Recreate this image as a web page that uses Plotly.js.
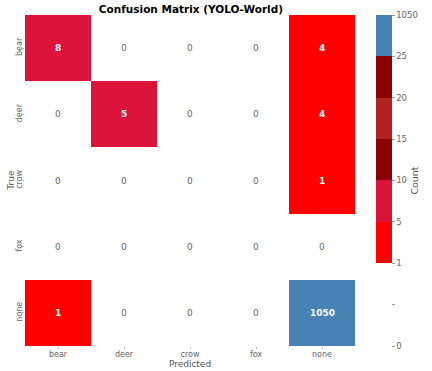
<!DOCTYPE html>
<html><head><meta charset="utf-8">
<script src="https://cdn.plot.ly/plotly-3.0.1.min.js"></script>
<style>body{margin:0;background:#fff}#c{width:432px;height:371px}</style>
</head><body><div id="c"></div>
<script>
const predLabels = ['bear','deer','crow','fox','none'];
const trueLabels = ['bear','deer','crow','fox','none'];
const counts = [
  [8,0,0,0,4],
  [0,5,0,0,4],
  [0,0,0,0,1],
  [0,0,0,0,0],
  [1,0,0,0,1050]
];
const boundaries = [0, 0.5, 1, 5, 10, 15, 20, 25, 1050];
const boundaryLabels = ['0', '', '1', '5', '10', '15', '20', '25', '1050'];
const binColors = ['#ffffff','#ffffff','#ff0000','#dc143c','#8b0000','#b22222','#8b0000','#4682b4'];

const nb = binColors.length;
function binOf(v){
  for(let i=nb-1;i>=0;i--){ if(v>=boundaries[i]) return Math.min(i,nb-1); }
  return 0;
}
const zBin = counts.map(r=>r.map(v=>binOf(v)+0.5));
const cs = [];
binColors.forEach((c,i)=>{ cs.push([i/nb,c]); cs.push([(i+1)/nb,c]); });

const ann = [];
counts.forEach((row,ri)=>row.forEach((v,ci)=>{
  const colored = v>=1;
  ann.push({x:predLabels[ci], y:trueLabels[ri], text: String(v), showarrow:false,
    font:{family:'DejaVu Sans', size:9, color: colored?'#ffffff':'#666666', weight: colored?'bold':'normal'}});
}));
ann.push({xref:'paper', yref:'paper', x:-0.045, y:0.5, xanchor:'center', yanchor:'middle', text:'True', textangle:-90,
  showarrow:false, font:{family:'DejaVu Sans', size:9, color:'#555'}});

const trace = {
  type:'heatmap', x:predLabels, y:trueLabels, z:zBin, customdata:counts,
  colorscale:cs, zmin:0, zmax:nb, xgap:0, ygap:0,
  colorbar:{x:1.063, xanchor:'left', xpad:0, ypad:0, y:0, yanchor:'bottom', len:1, thickness:16,
    outlinewidth:0, tickmode:'array', tickvals:boundaries.map((b,i)=>i), ticktext:boundaryLabels,
    ticks:'outside', ticklen:3, tickcolor:'#999', tickwidth:1,
    tickfont:{family:'DejaVu Sans', size:8.5, color:'#666'},
    title:{text:'Count', side:'right', font:{family:'DejaVu Sans', size:9.5, color:'#555'}}}
};
const layout = {
  width:432, height:371, margin:{l:25, r:74, t:15, b:25},
  paper_bgcolor:'#fff', plot_bgcolor:'#fff',
  title:{text:'<b>Confusion Matrix (YOLO-World)</b>', x:0.442, xanchor:'center', y:0.976, yanchor:'middle',
    font:{family:'DejaVu Sans', size:10.5, color:'#000'}},
  xaxis:{type:'category', showgrid:false, zeroline:false, showline:false, ticks:'outside', ticklen:2, tickcolor:'#bbb',
    ticklabelstandoff:-2,
    tickfont:{family:'DejaVu Sans', size:8, color:'#666'},
    title:{text:'Predicted', standoff:0, font:{family:'DejaVu Sans', size:9, color:'#555'}}},
  yaxis:{type:'category', autorange:'reversed', showgrid:false, zeroline:false, showline:false, ticks:'outside', ticklen:2, tickcolor:'#bbb',
    ticklabelstandoff:-3,
    tickangle:-90, tickfont:{family:'DejaVu Sans', size:8, color:'#666'}},
  annotations: ann
};
Plotly.newPlot('c',[trace],layout,{displayModeBar:false, staticPlot:true});
</script></body></html>
